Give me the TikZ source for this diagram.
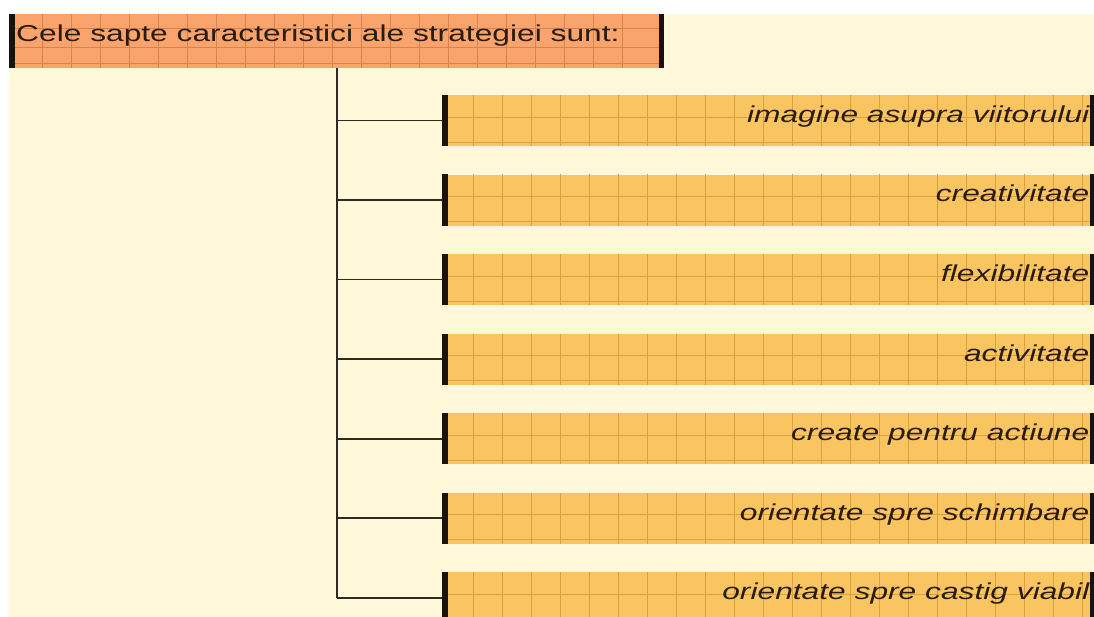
\documentclass[tikz,border=0pt]{standalone}
\usepackage{fontspec}
\setmainfont{Liberation Sans}
\usepackage{graphicx}
\definecolor{cream}{HTML}{FFF9DA}
\definecolor{hdrfill}{HTML}{F8A46C}
\definecolor{hdrgrid}{HTML}{D9844E}
\definecolor{boxfill}{HTML}{F9C561}
\definecolor{boxgrid}{HTML}{DDA03E}
\definecolor{barc}{HTML}{1A120C}
\definecolor{txt}{HTML}{2A1C12}
\definecolor{linec}{HTML}{2E2A22}
\begin{document}
\begin{tikzpicture}[x=1pt,y=-1pt,
  hdrbox/.style={rectangle, draw=none, fill=hdrfill, inner sep=0pt, minimum width=655pt, minimum height=54pt, anchor=north west},
  itembox/.style={rectangle, draw=none, fill=boxfill, inner sep=0pt, minimum width=651.5pt, minimum height=51pt, anchor=north west},
  hdrgridline/.style={draw=hdrgrid, line width=0.7pt},
  boxgridline/.style={draw=boxgrid, line width=0.7pt},
  hdrtext/.style={inner sep=0pt, text=txt, font=\fontsize{23}{27}\selectfont},
  itemtext/.style={inner sep=0pt, text=txt, font=\fontsize{23}{27}\selectfont\itshape},
  trunk/.style={draw=linec, line width=2.4pt},
  branch/.style={draw=linec, line width=1.6pt}]
\useasboundingbox (0,0) rectangle (1094,617);
\fill[white] (0,0) rectangle (1094,617);
\fill[cream] (9,14) rectangle (1094,617);
% header
\node[hdrbox] (hdr) at (9,14) {};
\foreach \x in {42,71,...,650} \draw[hdrgridline] (\x,0 |- hdr.north) -- (\x,0 |- hdr.south);
\foreach \d in {14,33,49} \draw[hdrgridline] ([yshift=-\d pt]hdr.north west) -- ([yshift=-\d pt]hdr.north east);
\fill[barc] (hdr.north west) rectangle ([xshift=5.5pt]hdr.south west);
\fill[barc] ([xshift=-5.5pt]hdr.north east) rectangle (hdr.south east);
\node[hdrtext, anchor=base west] (htitle) at (16,42) {\scalebox{1.38}[1]{Cele sapte caracteristici ale strategiei sunt:}};
\coordinate (trunktop) at (337,68);
% items
\foreach \i/\lbl in {1/imagine asupra viitorului, 2/creativitate, 3/flexibilitate, 4/activitate, 5/create pentru actiune, 6/orientate spre schimbare, 7/orientate spre castig viabil}{
  \pgfmathsetmacro\ty{95+79.5*(\i-1)}
  \node[itembox] (b\i) at (442,\ty) {};
  \foreach \x in {473,502,...,1089} \draw[boxgridline] (\x,0 |- b\i.north) -- (\x,0 |- b\i.south);
  \foreach \d in {22,47} \draw[boxgridline] ([yshift=-\d pt]b\i.north west) -- ([yshift=-\d pt]b\i.north east);
  \node[itemtext, anchor=base east] (l\i) at (1089.5,\ty+27.5) {\scalebox{1.38}[1]{\lbl}};
  \fill[barc] (b\i.north west) rectangle ([xshift=5.5pt]b\i.south west);
  \fill[barc] ([xshift=-3.5pt]b\i.north east) rectangle (b\i.south east);
  \draw[branch] (trunktop |- b\i.west) -- (b\i.west);
}
\draw[trunk] (trunktop) -- (trunktop |- b7.west);
\end{tikzpicture}
\end{document}
